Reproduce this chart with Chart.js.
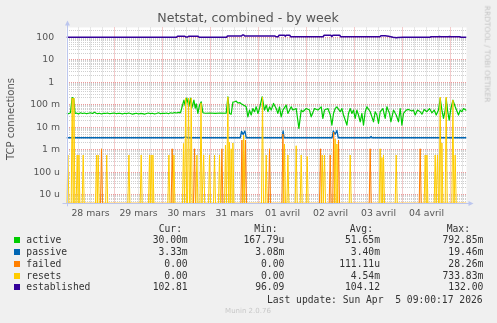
<!DOCTYPE html>
<html>
<head>
<meta charset="utf-8">
<script src="https://cdn.jsdelivr.net/npm/chart.js@4.4.1/dist/chart.umd.min.js"></script>
<style>
  html, body { margin:0; padding:0; background:#F0F0F0; }
  #wrap { position:relative; width:497px; height:323px; overflow:hidden; font-family:'DejaVu Sans', sans-serif; }
  #c { position:absolute; left:0; top:0; }
  .t { position:absolute; white-space:pre; line-height:1; }
  .mono { font-family:'DejaVu Sans Mono', monospace; font-size:9.7px; color:#333; }
  .sq { position:absolute; width:6px; height:6px; }
</style>
</head>
<body>
<div id="wrap">
  <canvas id="c" width="497" height="323"></canvas>
  <div class="t" style="left:248px;top:12.4px;transform:translateX(-50%);font-size:12.6px;color:#555">Netstat, combined - by week</div>
  <div class="t" style="left:11px;top:118.5px;transform:translate(-50%,-50%) rotate(-90deg);font-size:10px;color:#555">TCP connections</div>
  <div class="t" style="left:487px;top:53.5px;transform:translate(-50%,-50%) rotate(90deg);font-size:7.5px;color:#c4c4c4">RRDTOOL / TOBI OETIKER</div>
  <div id="legend"></div>
  <div class="t mono" style="right:14.3px;top:294.9px">Last update: Sun Apr  5 09:00:17 2026</div>
  <div class="t" style="left:248px;top:308.2px;transform:translateX(-50%);font-size:7px;color:#c8c8c8">Munin 2.0.76</div>
</div>
<script>
/* heures depuis le 28 mars 00:00 — fin du graphe vers le 5 avril 08:00 */
const HOUR_MIN = 0, HOUR_MAX = 200;
const Y_MIN = 4.14e-6, Y_MAX = 273;

const xTickHours  = [12, 36, 60, 84, 108, 132, 156, 180];
const xTickLabels = ['28 mars','29 mars','30 mars','31 mars','01 avril','02 avril','03 avril','04 avril'];
const yTickValues = [100, 10, 1, 0.1, 0.01, 0.001, 0.0001, 0.00001];
const yTickLabels = ['100  ','10  ','1  ','100 m','10 m','1 m','100 u','10 u'];

const COLORS = { active:'#00CC00', passive:'#0066B3', failed:'#FF8000', resets:'#FFCC00', established:'#330099' };

/* [heure, valeur] */
const active = [
  [0,.042],[1,.040],[2,.044],[2.8,.21],[3.6,.19],[4.3,.041],[5,.043],[6,.039],[7,.044],[8,.041],
  [9,.043],[10,.040],[11,.042],[12,.044],[13,.041],[14,.047],[14.6,.043],[15.5,.040],[16.5,.042],[17.5,.039],
  [18.5,.042],[19.5,.041],[20.5,.043],[21.5,.040],[22.5,.041],[24,.043],[25,.040],[26,.042],[27,.041],[28,.039],
  [29,.042],[30,.040],[31,.043],[32,.041],[33,.038],[34,.040],[35,.042],[36,.039],[37,.041],[38,.040],
  [39,.038],[40,.041],[41,.043],[42,.040],[43,.042],[44,.039],[45,.041],[46,.044],[47,.040],[48,.042],
  [49,.041],[50,.043],[51,.040],[52,.044],[53,.042],[54,.045],[55,.043],[56,.046],[57,.044],
  [58.7,.16],[59.35,.09],[60.1,.2],[61.2,.085],[62.0,.2],[62.6,.07],[63.7,.16],[64.35,.07],[64.85,.11],[65.7,.041],
  [66.5,.096],[67.35,.136],[68.2,.044],[69.35,.042],[71.85,.043],[74.35,.041],[76.85,.043],[79.85,.042],[80.7,.227],[81.5,.041],
  [82.35,.038],[83.2,.13],[84.0,.136],[84.85,.145],[85.7,.12],[86.6,.125],[87.35,.11],[88.2,.1],[89.1,.09],[89.85,.081],
  [90.7,.029],[91.5,.058],[92.35,.035],[93.2,.068],[94.0,.049],[94.85,.081],[95.7,.041],[96.5,.068],[97.85,.227],[99.0,.058],
  [99.85,.0965],[100.7,.049],[101.5,.081],[102.35,.058],[103.5,.1145],[104.85,.068],[105.7,.041],[106.5,.081],[107.35,.029],[108.2,.058],
  [109.85,.0965],[110.7,.041],[112.35,.081],[113.2,.058],[114.85,.068],[116.2,.0088],[117.35,.058],[118.2,.049],[119.85,.068],[121.5,.058],
  [122.35,.029],[124.0,.068],[125.7,.058],[127.35,.081],[128.2,.0246],[129.0,.058],[130.7,.068],[131.9,.035],[132.7,.0124],[133.5,.041],
  [134.35,.068],[135.2,.081],[136.85,.049],[137.7,.068],[138.5,.035],[139.35,.021],[140.2,.0124],[141.0,.041],[141.85,.068],[142.7,.041],
  [143.5,.058],[144.35,.0246],[145.2,.058],[146.0,.035],[146.85,.0175],[147.7,.041],[148.5,.0124],[149.35,.049],[150.2,.081],[151.85,.049],
  [152.7,.029],[153.5,.0175],[154.35,.049],[155.2,.035],[156.0,.0147],[156.85,.049],[158.2,.068],[159.35,.0246],[160.2,.081],[161.5,.041],
  [162.2,.0175],[163.5,.058],[164.85,.035],[166.0,.0175],[166.85,.068],[167.7,.0124],[168.5,.041],[169.85,.058],[171.0,.062],[172.7,.053],
  [173.5,.058],[174.35,.035],[175.5,.058],[176.85,.049],[177.7,.038],[178.85,.062],[180.2,.049],[181.5,.068],[182.7,.044],[183.85,.058],
  [184.85,.035],[186.0,.058],[186.85,.191],[187.7,.058],[188.5,.0246],[189.35,.058],[189.85,.191],[190.5,.058],[191.35,.0207],[192.2,.068],
  [193.2,.161],[194.35,.081],[196.0,.035],[196.85,.058],[197.7,.049],[198.5,.068],[200,.055]
];

const passive = [
  [0,.0034],[58.5,.0034],[59.5,.0037],[60.5,.0034],[86.9,.0034],[87.5,.0066],[88.3,.0048],[89.2,.0068],[89.9,.0034],
  [107.8,.0034],[108.3,.0068],[108.8,.0034],[132.8,.0034],[133.4,.0068],[134.3,.0049],[135.2,.0072],[135.9,.0034],
  [151.8,.0034],[152.3,.0039],[152.8,.0034],[200,.0034]
];

const failed = [
  [0,0],[17.0,0],[17.5,.0011],[18.0,0],[52.35,0],[52.85,.0011],[53.35,0],[63.5,0],[64.0,.0011],[64.5,0],
  [77.2,0],[77.7,.0011],[78.2,0],[87.2,0],[87.7,.0027],[88.1,0],[88.5,.0044],[89.0,0],[89.5,.0027],[90.0,0],
  [101.0,0],[101.5,.0011],[102.0,0],[107.7,0],[108.2,.005],[108.7,0],[126.5,0],[127.0,.0011],[127.5,0],
  [131.35,0],[131.85,.00058],[132.3,0],[133.1,0],[133.6,.006],[134.1,0],[135.5,0],[136.0,.0027],[136.5,0],
  [151.35,0],[151.85,.0011],[152.35,0],[176.35,0],[176.85,.0011],[177.35,0],[200,0]
];

const resets = [
  [0,0],[0.2,0],[0.7,.00058],[1.2,0],[2.35,0],[2.85,.2],[3.3,0],[3.7,.2],[4.2,0],
  [4.85,0],[5.35,.00058],[5.8,0],[6.2,.00058],[6.7,0],[7.85,0],[8.35,.00058],[8.85,0],
  [14.5,0],[15.0,.00058],[15.4,0],[15.85,.00058],[16.35,0],[19.6,0],[20.1,.00058],[20.6,0],
  [30.7,0],[31.2,.00058],[31.7,0],[36.85,0],[37.35,.00058],[37.85,0],
  [41.0,0],[41.5,.00058],[41.9,0],[42.35,.00058],[42.8,0],[43.2,.00058],[43.7,0],
  [50.7,0],[51.2,.00058],[51.7,0],[53.2,0],[53.7,.00058],[54.2,0],
  [58.0,0],[58.5,.0019],[59.05,0],[59.6,.2],[60.1,0],[60.5,0],[61.0,.2],[61.5,0],[61.85,0],[62.35,.2],[62.85,0],
  [64.7,0],[65.2,.00058],[65.7,0],[66.75,0],[67.25,.12],[67.75,0],[68.1,0],[68.6,.00058],[69.1,0],
  [71.0,0],[71.5,.00058],[72.0,0],[73.5,0],[74.0,.00058],[74.5,0],[76.0,0],[76.5,.00058],[77.0,0],
  [79.0,0],[79.5,.0016],[80.0,0],[80.2,0],[80.7,.22],[81.1,0],[81.5,.0022],[81.9,0],[82.35,.0011],[82.8,0],[83.2,.002],[83.7,0],
  [88.1,0],[88.6,.0044],[89.1,0],[97.5,0],[98.0,.22],[98.5,0],[99.35,0],[99.85,.00058],[100.35,0],
  [108.5,0],[109.0,.0018],[109.5,0],[110.2,0],[110.7,.00058],[111.2,0],[114.35,0],[114.85,.0015],[115.35,0],
  [116.85,0],[117.35,.00058],[117.85,0],[119.85,0],[120.35,.0005],[120.85,0],
  [127.35,0],[127.85,.00058],[128.4,0],[129.0,.00058],[129.5,0],
  [133.85,0],[134.35,.003],[134.8,0],[135.2,.0018],[135.7,0],[141.35,0],[141.85,.00058],[142.35,0],
  [156.35,0],[156.85,.0011],[157.3,0],[157.7,.00045],[158.1,0],[158.5,.00058],[159.0,0],
  [164.35,0],[164.85,.00058],[165.35,0],[178.85,0],[179.35,.00058],[179.8,0],[180.2,.00058],[180.7,0],
  [183.85,0],[184.35,.00058],[184.85,0],[185.0,0],[185.5,.00058],[186.0,0],[186.35,0],[186.85,.22],[187.3,0],
  [187.7,.002],[188.2,0],[189.35,0],[189.85,.22],[190.35,0],[192.7,0],[193.2,.16],[193.7,0],[193.85,0],[194.35,.00058],[194.85,0],
  [200,0]
];

const established = [
  [0,100],[55,100],[55.5,111],[59.2,111],[59.8,103],[60.6,104],[61.2,111],[65.8,111],[66.3,100],[80,100],
  [80.5,114],[87.5,114],[88,126],[88.6,126],[89.1,114],[104.3,114],[104.8,106],[105.8,106],[106.3,123],[109,123],
  [109.4,112],[109.8,123],[111.6,123],[112.1,106],[128.3,106],[128.8,123],[132.2,123],[132.7,108],[133.2,123],[136.6,123],
  [137.1,106],[156.7,106],[157.2,118],[159.3,118],[161,112],[163.3,101],[164.3,98],[164.9,96],[165.5,98],[168.3,100],
  [181.7,100],[182.2,106],[186,106],[186.5,109],[187,106],[191,106],[191.5,109],[192,106],[196.7,106],[197.2,100],[200,100]
];

const legendNames = ['active','passive','failed','resets','established'];
const legendCur = ['30.00m','3.33m','0.00','0.00','102.81'];
const legendMin = ['167.79u','3.08m','0.00','0.00','96.09'];
const legendAvg = ['51.65m','3.40m','111.11u','4.54m','104.12'];
const legendMax = ['792.85m','19.46m','28.26m','733.83m','132.00'];

/* ── légende façon rrdtool ───────────────────────────── */
function buildLegend(){
  const lg = document.getElementById('legend');
  const row0 = 228.5, step = 11.75, half = 4.85;
  let html = '';
  [['Cur:',182],['Min:',277.7],['Avg:',373],['Max:',470]].forEach(([h,x])=>{
    html += `<div class="t mono" style="right:${497-x}px;top:${row0-half}px">${h}</div>`;
  });
  legendNames.forEach((n,i)=>{
    const cy = row0 + step*(i+1);
    html += `<div class="sq" style="left:14px;top:${cy-3}px;background:${COLORS[n]}"></div>`;
    html += `<div class="t mono" style="left:26.3px;top:${cy-half}px">${n}</div>`;
    [[legendCur,187.7],[legendMin,284.3],[legendAvg,380],[legendMax,483.3]].forEach(([arr,x])=>{
      html += `<div class="t mono" style="right:${497-x}px;top:${cy-half}px">${arr[i]}</div>`;
    });
  });
  lg.innerHTML = html;
}

/* grilles : toutes les 6 h en x, 1..9 par décade en y */
function xGridHours(){
  const out = [];
  for(let h=HOUR_MIN+6; h<HOUR_MAX; h+=6) out.push(h);
  return out;
}
function yGridValues(){
  const out = [];
  for(let e=-6; e<=2; e++){
    for(let k=1; k<=9; k++){
      const v = k * Math.pow(10, e);
      if(v >= Y_MIN && v <= Y_MAX) out.push(+v.toPrecision(3));
    }
  }
  return out;
}
function isDecade(v){
  return yTickValues.some(t => Math.abs(t - v) / t < 1e-6);
}

const MINOR = '#CFCFCF';
const MAJOR = '#EC9A9A';
const AXIS  = '#BCC6EE';

/* fond blanc de la zone + flèches d'axes */
const framePlugin = {
  id:'frame',
  beforeDraw(chart){
    const { ctx, chartArea:a } = chart;
    ctx.save();
    ctx.fillStyle = '#FFFFFF';
    ctx.fillRect(a.left, a.top, a.right-a.left, a.bottom-a.top);
    ctx.restore();
  },
  afterDatasetsDraw(chart){
    const { ctx, chartArea:a } = chart;
    const x0 = Math.round(a.left) + 0.5, y0 = Math.round(a.bottom) - 0.5;
    ctx.save();
    ctx.strokeStyle = AXIS; ctx.fillStyle = AXIS; ctx.lineWidth = 1;
    ctx.beginPath(); ctx.moveTo(x0, a.bottom + 3); ctx.lineTo(x0, a.top - 4); ctx.stroke();
    ctx.beginPath(); ctx.moveTo(a.left - 4, y0 + 1); ctx.lineTo(a.right + 4, y0 + 1); ctx.stroke();
    ctx.beginPath(); ctx.moveTo(x0-2.5, a.top-2); ctx.lineTo(x0+2.5, a.top-2); ctx.lineTo(x0, a.top-7); ctx.closePath(); ctx.fill();
    ctx.beginPath(); ctx.moveTo(a.right+2, y0-1.5); ctx.lineTo(a.right+2, y0+3.5); ctx.lineTo(a.right+7, y0+1); ctx.closePath(); ctx.fill();
    ctx.restore();
  }
};

/* rrdtool trace les valeurs nulles au pied de l'axe log : 0 -> minimum de l'échelle */
function mkSet(label, pts, order, width){
  return {
    label, order,
    data: pts.map(p => ({ x:p[0], y: p[1] === 0 ? Y_MIN : p[1] })),
    borderColor: COLORS[label], backgroundColor: COLORS[label],
    borderWidth: width, pointRadius: 0, tension: 0, fill: false,
    borderJoinStyle: 'round', spanGaps: true
  };
}

function main(){
  Chart.defaults.font.family = "'DejaVu Sans', sans-serif";
  Chart.defaults.color = '#555';
  buildLegend();

  new Chart(document.getElementById('c'), {
    type: 'line',
    data: { datasets: [
      mkSet('active', active, 4, 1.2),
      mkSet('passive', passive, 3, 1.3),
      mkSet('failed', failed, 2, 1),
      mkSet('resets', resets, 1, 1),
      mkSet('established', established, 0, 1.5)
    ]},
    plugins: [framePlugin],
    options: {
      responsive: false, animation: false, devicePixelRatio: 1,
      layout: { padding: { left:0, top:27.5, right:30.5, bottom:99.7 } },
      plugins: { legend:{display:false}, tooltip:{enabled:false} },
      scales: {
        x: {
          type: 'linear', min: HOUR_MIN, max: HOUR_MAX, bounds: 'data',
          afterBuildTicks: s => { s.ticks = xGridHours().map(v => ({ value:v })); },
          afterFit: s => { s.height = 20; },
          grid: { color: c => (c.tick && c.tick.value % 24 === 0) ? MAJOR : MINOR, lineWidth: 1, drawTicks: false },
          border: { display: false, dash: [1,1] },
          ticks: {
            autoSkip: false, maxRotation: 0, minRotation: 0, padding: 5,
            font: { size: 9.3 }, color: '#555',
            callback: v => { const i = xTickHours.indexOf(v); return i >= 0 ? xTickLabels[i] : ''; }
          }
        },
        y: {
          type: 'logarithmic', min: Y_MIN, max: Y_MAX, bounds: 'data',
          afterBuildTicks: s => { s.ticks = yGridValues().map(v => ({ value:v })); },
          afterFit: s => { s.width = 66.5; },
          grid: { color: c => (c.tick && isDecade(c.tick.value)) ? MAJOR : MINOR, lineWidth: 1, drawTicks: false },
          border: { display: false, dash: [1,1] },
          ticks: {
            autoSkip: false, padding: 6.5, font: { size: 9.3 }, color: '#555',
            callback: v => { const i = yTickValues.findIndex(t => Math.abs(t - v) / t < 1e-6); return i >= 0 ? yTickLabels[i] : ''; }
          }
        }
      }
    }
  });
}

window.addEventListener('DOMContentLoaded', main);
</script>
</body>
</html>
